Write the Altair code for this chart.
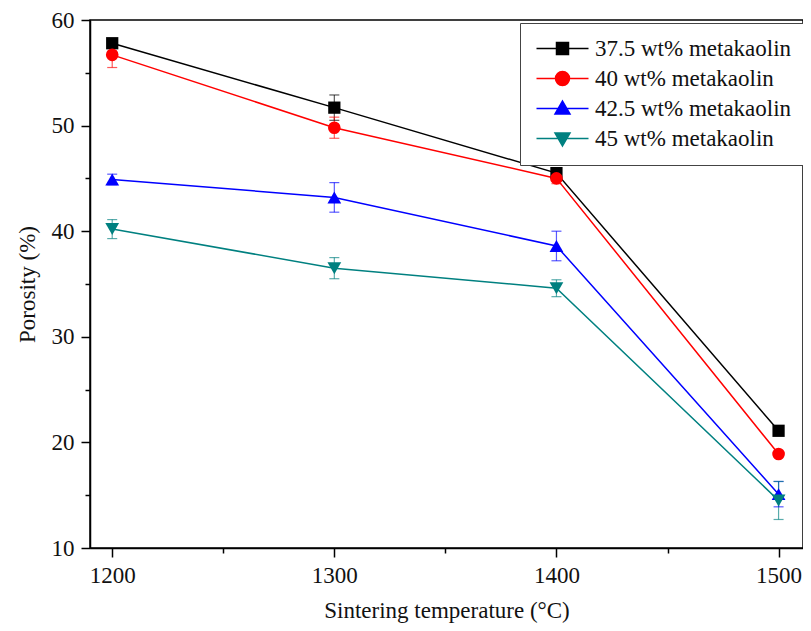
import altair as alt
import pandas as pd

temps = [1200, 1300, 1400, 1500]
series_names = ["37.5 wt% metakaolin", "40 wt% metakaolin",
                "42.5 wt% metakaolin", "45 wt% metakaolin"]
colors = ["#000000", "#FF0000", "#0000FF", "#008080"]
marker_shapes = ["square", "circle", "triangle-up", "triangle-down"]
marker_sizes = [150, 160, 190, 190]

por_375 = [57.8, 51.7, 45.5, 21.1]
err_375 = [0.3, 1.2, 0.3, 0.3]
por_40 = [56.7, 49.8, 45.0, 18.9]
err_40 = [1.2, 1.0, 0.5, 0.3]
por_425 = [44.9, 43.2, 38.6, 15.1]
err_425 = [0.5, 1.4, 1.4, 1.2]
por_45 = [40.2, 36.5, 34.6, 14.5]
err_45 = [0.9, 1.0, 0.8, 1.8]

x_ticks = [1200, 1250, 1300, 1350, 1400, 1450, 1500]
y_ticks = [10, 15, 20, 25, 30, 35, 40, 45, 50, 55, 60]

# legend symbols: line segment plus marker (custom SVG paths)
legend_paths = [
    "M-5.2,0H5.2M-1.2,-1.2H1.2V1.2H-1.2Z",
    "M-5.2,0H5.2M-1.4,0A1.4,1.4 0 1,0 1.4,0A1.4,1.4 0 1,0 -1.4,0Z",
    "M-5.2,0H5.2M0,-1.5L1.5,1.1L-1.5,1.1Z",
    "M-5.2,0H5.2M0,1.5L1.5,-1.1L-1.5,-1.1Z",
]

rows = []
for name, vals, errs in zip(series_names, [por_375, por_40, por_425, por_45],
                            [err_375, err_40, err_425, err_45]):
    for t, v, e in zip(temps, vals, errs):
        rows.append({"temp": t, "porosity": v, "lo": v - e, "hi": v + e,
                     "series": name})
df = pd.DataFrame(rows)

FONT = "Liberation Serif"
FS = 23

x_enc = alt.X("temp:Q",
              scale=alt.Scale(domain=[1190, 1511], nice=False, zero=False),
              axis=alt.Axis(values=x_ticks, format="d",
                            labelExpr="datum.value % 100 === 0 ? datum.label : ''",
                            tickSize={"condition": {"test": "datum.value % 100 === 0", "value": 9}, "value": 5},
                            title="Sintering temperature (°C)",
                            labelPadding=7, titlePadding=12),
              )
y_enc = alt.Y("porosity:Q",
              scale=alt.Scale(domain=[10, 60], nice=False, zero=False),
              axis=alt.Axis(values=y_ticks,
                            labelExpr="datum.value % 10 === 0 ? datum.label : ''",
                            tickSize={"condition": {"test": "datum.value % 10 === 0", "value": 9}, "value": 5},
                            title="Porosity (%)",
                            labelPadding=7, titlePadding=12),
              )

leg = alt.Legend(
    title=None, orient="none", legendX=430, legendY=3,
    padding=14, symbolSize=100, symbolStrokeWidth=1.5, symbolOffset=17,
    labelOffset=21, labelFont=FONT, labelFontSize=FS, labelColor="#111111",
    labelLimit=400, rowPadding=6, strokeColor="#444444", fillColor="white",
)


def fill_enc():
    return alt.Fill("series:N", scale=alt.Scale(domain=series_names, range=colors), legend=leg)


def stroke_enc():
    return alt.Stroke("series:N", scale=alt.Scale(domain=series_names, range=colors), legend=leg)


base = alt.Chart(df)

# legend-only layer (no rows drawn): supplies line+marker legend symbols
legend_layer = base.transform_filter("false").mark_point(filled=True, opacity=1).encode(
    x=x_enc, y=y_enc,
    shape=alt.Shape("series:N", scale=alt.Scale(domain=series_names, range=legend_paths), legend=leg),
    fill=fill_enc(),
    stroke=stroke_enc(),
)

lines = base.mark_line(strokeWidth=1.5).encode(
    x=alt.X("temp:Q"), y=alt.Y("porosity:Q"),
    stroke=stroke_enc(),
    detail="series:N",
)

err_rules = base.mark_rule(strokeWidth=1.2, opacity=0.65).encode(
    x=alt.X("temp:Q"), y=alt.Y("lo:Q"), y2="hi:Q",
    stroke=stroke_enc(),
)
err_caps_lo = base.mark_tick(orient="horizontal", size=10, thickness=1.2, opacity=0.65).encode(
    x=alt.X("temp:Q"), y=alt.Y("lo:Q"), fill=fill_enc(),
)
err_caps_hi = base.mark_tick(orient="horizontal", size=10, thickness=1.2, opacity=0.65).encode(
    x=alt.X("temp:Q"), y=alt.Y("hi:Q"), fill=fill_enc(),
)

point_layers = []
for name, shp, sz in zip(series_names, marker_shapes, marker_sizes):
    point_layers.append(
        base.transform_filter(alt.datum.series == name).mark_point(
            filled=True, shape=shp, size=sz, opacity=1
        ).encode(
            x=alt.X("temp:Q"), y=alt.Y("porosity:Q"),
            fill=fill_enc(),
        )
    )

chart = alt.layer(legend_layer, lines, err_rules, err_caps_lo, err_caps_hi,
                  *point_layers).properties(
    width=713, height=528,
    background="white",
    autosize=alt.AutoSizeParams(type="none"),
    padding={"left": 82, "top": 12, "right": 0, "bottom": 75},
).configure_view(
    stroke="#000000", strokeWidth=1.5
).configure_axis(
    grid=False, domainColor="#000000", domainWidth=1.5,
    tickColor="#000000", tickWidth=1.5,
    labelFont=FONT, labelFontSize=FS, labelColor="#111111",
    titleFont=FONT, titleFontSize=FS, titleColor="#111111", titleFontWeight="normal",
).configure_legend(
    labelFont=FONT, labelFontSize=FS, labelColor="#111111",
)

chart.save("out.html", embed_options={"renderer": "svg", "actions": False})
